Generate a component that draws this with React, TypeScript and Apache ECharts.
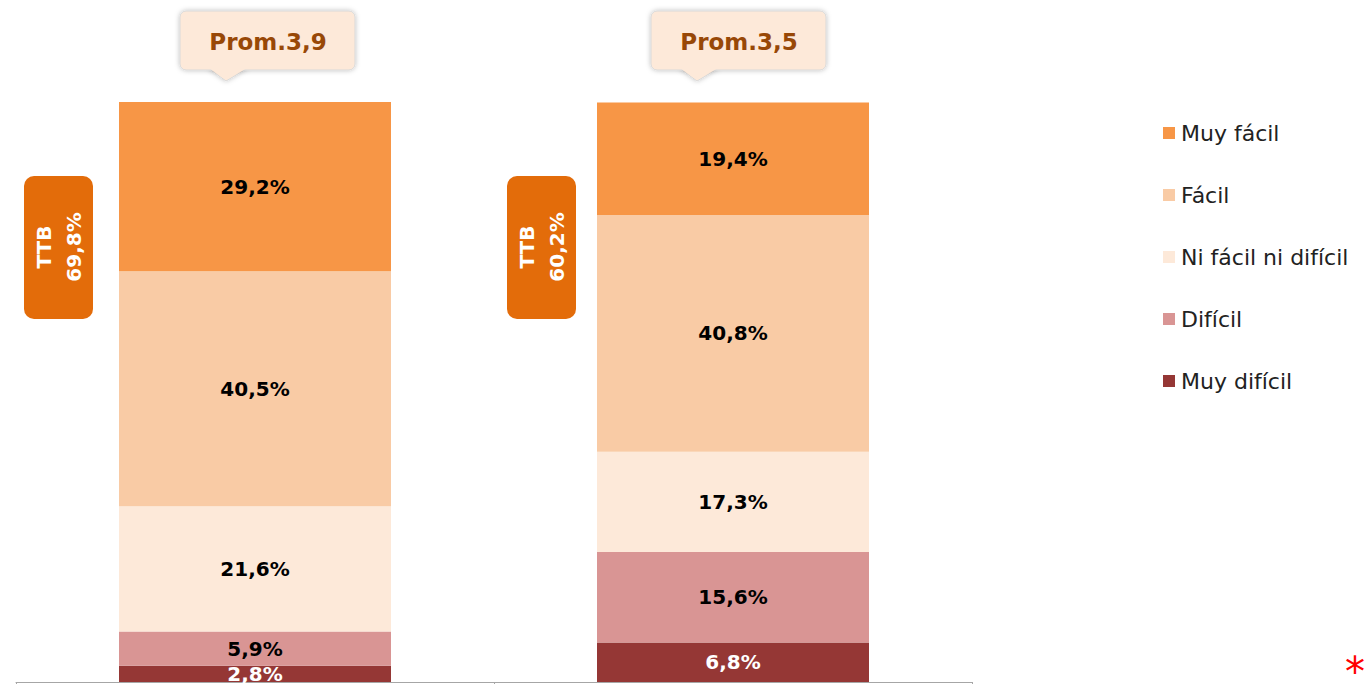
import React, { useEffect, useRef } from "react";
import * as echarts from "echarts";

const categories = ["Grupo 1", "Grupo 2"];
const seriesNames = ["Muy difícil", "Difícil", "Ni fácil ni difícil", "Fácil", "Muy fácil"];
const muyDificil = [2.8, 6.8];
const dificil = [5.9, 15.6];
const niFacil = [21.6, 17.3];
const facil = [40.5, 40.8];
const muyFacil = [29.2, 19.4];
const promLabels = ["Prom.3,9", "Prom.3,5"];
const ttbLabels = ["69,8%", "60,2%"];
const legendOrder = ["Muy fácil", "Fácil", "Ni fácil ni difícil", "Difícil", "Muy difícil"];

const colors: Record<string, string> = {
  "Muy difícil": "#953735",
  "Difícil": "#D99594",
  "Ni fácil ni difícil": "#FDE9D9",
  "Fácil": "#F9CBA5",
  "Muy fácil": "#F79646",
};

const FONT = "'DejaVu Sans', sans-serif";
const promBoxLeft = [180, 651];
const ttbBoxLeft = [24, 507];

export default function App() {
  const ref = useRef<HTMLDivElement>(null);
  useEffect(() => {
    if (!ref.current) return;
    const chart = echarts.init(ref.current, null, { renderer: "svg" });
    const dataSets = [muyDificil, dificil, niFacil, facil, muyFacil];
    const series = seriesNames.map((name, i) => ({
      name,
      type: "bar",
      stack: "total",
      barWidth: 272,
      data: dataSets[i],
      itemStyle: { color: colors[name] },
      label: {
        show: true,
        position: "inside",
        fontFamily: FONT,
        fontWeight: "bold",
        fontSize: 20,
        color: name === "Muy difícil" ? "#ffffff" : "#000000",
        formatter: (p: any) => String(p.value.toFixed(1)).replace(".", ",") + "%",
      },
    }));
    chart.setOption({
      animation: false,
      grid: { left: 16, right: 393, top: 102, bottom: 2, containLabel: false },
      xAxis: {
        type: "category",
        data: categories,
        axisLine: { show: true, lineStyle: { color: "#A6A6A6", width: 1 } },
        axisTick: { show: true, length: 6, lineStyle: { color: "#A6A6A6" } },
        axisLabel: { show: false },
      },
      yAxis: { type: "value", min: 0, max: 100, show: false, splitLine: { show: false } },
      legend: {
        orient: "vertical",
        left: 1163,
        top: 122,
        padding: 0,
        itemWidth: 12,
        itemHeight: 12,
        itemGap: 40,
        icon: "rect",
        data: legendOrder,
        textStyle: { fontFamily: FONT, fontSize: 22, color: "#222222", lineHeight: 22, padding: [0, 0, 0, 1] },
      },
      series,
    });

    const graphics: any[] = [];
    categories.forEach((c, i) => {
      const boxLeft = promBoxLeft[i];
      graphics.push({
        type: "group",
        children: [
          {
            type: "polygon",
            shape: { points: [[boxLeft + 28, 68], [boxLeft + 68, 68], [boxLeft + 46, 81]] },
            style: { fill: "#FDE9D9", stroke: "#D9D9D9", lineWidth: 1, shadowBlur: 5, shadowColor: "rgba(0,0,0,0.25)" },
          },
          {
            type: "rect",
            shape: { x: boxLeft, y: 11, width: 175, height: 59, r: 6 },
            style: { fill: "#FDE9D9", stroke: "#D9D9D9", lineWidth: 1, shadowBlur: 5, shadowColor: "rgba(0,0,0,0.25)" },
          },
          {
            type: "polygon",
            shape: { points: [[boxLeft + 29, 68], [boxLeft + 67, 68], [boxLeft + 46, 80]] },
            style: { fill: "#FDE9D9" },
          },
          {
            type: "text",
            x: boxLeft + 88,
            y: 42,
            style: {
              text: promLabels[i],
              fontFamily: FONT,
              fontWeight: "bold",
              fontSize: 23,
              fill: "#984807",
              align: "center",
              verticalAlign: "middle",
            },
          },
        ],
      });
      const ttbLeft = ttbBoxLeft[i];
      graphics.push({
        type: "group",
        children: [
          {
            type: "rect",
            shape: { x: ttbLeft, y: 176, width: 69, height: 143, r: 10 },
            style: { fill: "#E36C0A" },
          },
          {
            type: "text",
            x: ttbLeft + 35,
            y: 247,
            rotation: Math.PI / 2,
            style: {
              text: "TTB\n" + ttbLabels[i],
              fontFamily: FONT,
              fontWeight: "bold",
              fontSize: 20,
              lineHeight: 30,
              fill: "#ffffff",
              align: "center",
              verticalAlign: "middle",
            },
          },
        ],
      });
    });
    graphics.push({
      type: "text",
      x: 1355,
      y: 684,
      style: {
        text: "*",
        fontFamily: FONT,
        fontSize: 40,
        lineHeight: 24,
        fill: "#FF0000",
        align: "center",
        verticalAlign: "bottom",
      },
    });
    chart.setOption({ graphic: graphics });
    return () => chart.dispose();
  }, []);
  return (
    <div
      ref={ref}
      style={{ position: "fixed", left: 0, top: 0, width: 1365, height: 684, background: "#ffffff" }}
    />
  );
}
